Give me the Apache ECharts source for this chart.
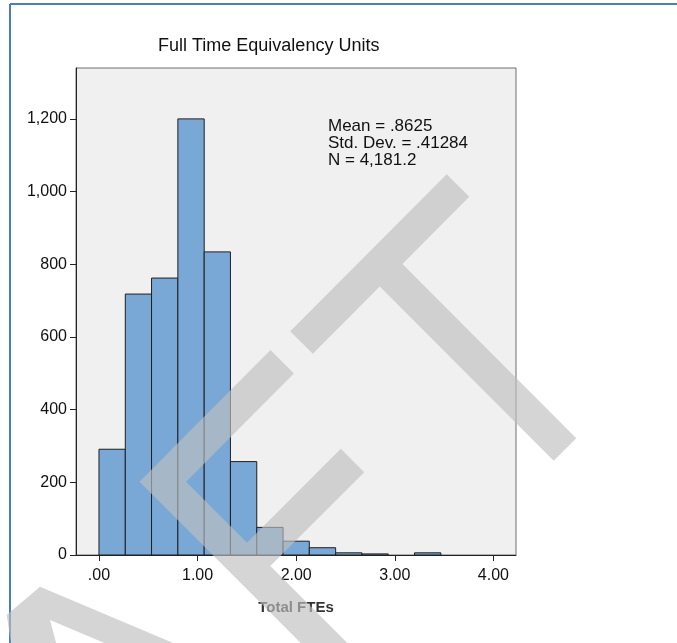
<!DOCTYPE html>
<html>
<head>
<meta charset="utf-8">
<script src="https://cdn.jsdelivr.net/npm/echarts@6/dist/echarts.min.js"></script>
<style>
html,body{margin:0;padding:0;background:#fff;}
#chart{width:677px;height:643px;}
</style>
</head>
<body>
<div id="chart"></div>
<script>
// ---- data ----
var chartTitle = 'Full Time Equivalency Units';
var xAxisName = 'Total FTEs';
var binEdges = [0, 0.267, 0.533, 0.8, 1.067, 1.333, 1.6, 1.867, 2.133, 2.4, 2.667, 2.933, 3.2, 3.467, 3.733, 4.0];
var binCounts = [291, 718, 762, 1200, 834, 257, 76, 38, 20, 6, 3, 0, 6, 0, 0];
var xTickValues = [0, 1, 2, 3, 4];
var xTickLabels = ['.00', '1.00', '2.00', '3.00', '4.00'];
var yTickValues = [0, 200, 400, 600, 800, 1000, 1200];
var yTickLabels = ['0', '200', '400', '600', '800', '1,000', '1,200'];
var statsLines = ['Mean = .8625', 'Std. Dev. = .41284', 'N = 4,181.2'];

// ---- build ----
var histData = [];
for (var i = 0; i < binCounts.length; i++) {
  histData.push([binEdges[i], binEdges[i + 1], binCounts[i]]);
}

var FONT = '"Liberation Sans", Arial, sans-serif';
var wmStyle = { fill: 'rgba(190,190,190,0.65)' };

// watermark polygons (rotated "DRAFT" letters, decorative)
var wmT = [[290.2,331.2],[446.7,174.2],[469.3,196.8],[402.4,264],[576.3,438.2],[553.7,460.8],[379.75,286.6],[312.8,353.8]];
var wmF = [[139.5,481.7],[270.5,350],[293.9,373.4],[186.1,481.7],[247,542.7],[340.8,448.8],[364.2,472.2],[270.3,566],[774.5,1070],[751.1,1093.4]];
var wmA = [[12,650],[6.7,615],[40,586.7],[189.8,650],[121,650],[50,620],[58,650]];

var chart = echarts.init(document.getElementById('chart'), null, {renderer: 'canvas'});
var option = {
  animation: false,
  backgroundColor: '#ffffff',
  grid: {
    left: 76, top: 68, width: 440, height: 487,
    show: true, backgroundColor: '#f0f0f0', borderColor: '#6e6e6e', borderWidth: 1
  },
  xAxis: {
    type: 'value', min: -0.233, max: 4.229,
    name: xAxisName, nameLocation: 'middle', nameGap: 45,
    nameTextStyle: { fontFamily: FONT, fontSize: 15, fontWeight: 'bold', color: '#333' },
    axisLine: { show: true, onZero: false, lineStyle: { color: '#222', width: 1 } },
    axisTick: { show: true, length: 6, customValues: xTickValues, lineStyle: { color: '#222' } },
    axisLabel: {
      customValues: xTickValues, margin: 13,
      fontFamily: FONT, fontSize: 16, color: '#111',
      formatter: function (v) { var k = xTickValues.indexOf(v); return k >= 0 ? xTickLabels[k] : ''; }
    },
    splitLine: { show: false }
  },
  yAxis: {
    type: 'value', min: 0, max: 1340,
    axisLine: { show: true, onZero: false, lineStyle: { color: '#222', width: 1 } },
    axisTick: { show: true, length: 6, customValues: yTickValues, lineStyle: { color: '#222' } },
    axisLabel: {
      customValues: yTickValues, margin: 9,
      fontFamily: FONT, fontSize: 16, color: '#111',
      formatter: function (v) { var k = yTickValues.indexOf(v); return k >= 0 ? yTickLabels[k] : ''; }
    },
    splitLine: { show: false }
  },
  series: [{
    type: 'custom',
    data: histData,
    encode: { x: [0, 1], y: 2 },
    clip: true,
    renderItem: function (params, api) {
      var lo = api.value(0), hi = api.value(1), c = api.value(2);
      if (!c) return null;
      var p1 = api.coord([lo, c]);
      var p2 = api.coord([hi, 0]);
      return {
        type: 'rect',
        shape: { x: p1[0], y: p1[1], width: p2[0] - p1[0], height: p2[1] - p1[1] },
        style: { fill: '#7aa8d6', stroke: '#1f1f1f', lineWidth: 1 }
      };
    }
  }],
  graphic: [
    { type: 'text', left: 158, top: 37, z: 10,
      style: { text: chartTitle, font: '18px ' + FONT, fill: '#111' } },
    { type: 'text', left: 328, top: 118, z: 10,
      style: { text: statsLines.join('\n'), font: '17px ' + FONT, fill: '#111', lineHeight: 17 } },
    { type: 'line', z: 50, shape: { x1: 10, y1: 4, x2: 677, y2: 4 }, style: { stroke: '#4a7ebb', lineWidth: 2 } },
    { type: 'line', z: 50, shape: { x1: 10, y1: 4, x2: 10, y2: 643 }, style: { stroke: '#4a7ebb', lineWidth: 2 } },
    { type: 'polygon', z: 100, silent: true, shape: { points: wmT }, style: wmStyle },
    { type: 'polygon', z: 100, silent: true, shape: { points: wmF }, style: wmStyle },
    { type: 'polygon', z: 100, silent: true, shape: { points: wmA }, style: wmStyle }
  ]
};
chart.setOption(option);
</script>
</body>
</html>
